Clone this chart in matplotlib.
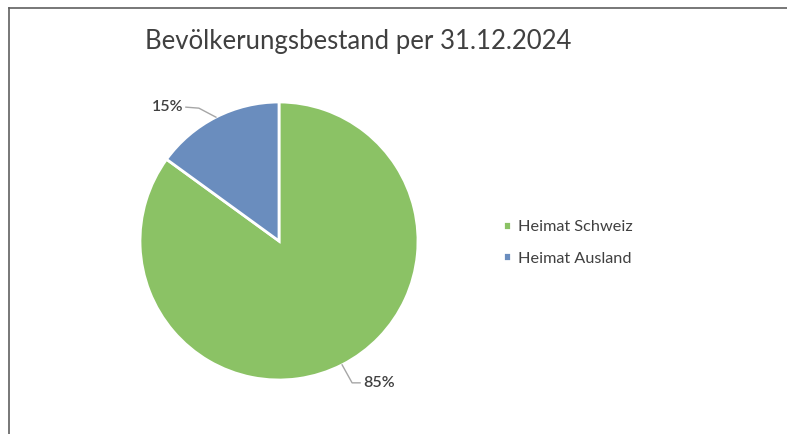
import numpy as np
import matplotlib.pyplot as plt

plt.rcParams['font.family'] = ['Lato', 'DejaVu Sans']

labels = ['Heimat Schweiz', 'Heimat Ausland']
shares = [85, 15]
colors = ['#8bc265', '#6a8dbe']
title = 'Bevölkerungsbestand per 31.12.2024'

W, H = 787, 434
fig = plt.figure(figsize=(W / 100, H / 100), dpi=100)

# pie center / radius in pixels
cx, cy, r = 279, 241, 139
half = 150
ax = fig.add_axes([(cx - half) / W, (H - cy - half) / H, 2 * half / W, 2 * half / H])
wedges, _ = ax.pie(shares, colors=colors, startangle=90, counterclock=False,
                   wedgeprops=dict(edgecolor='white', linewidth=2))
lim = half / r
ax.set_xlim(-lim, lim)
ax.set_ylim(-lim, lim)
ax.set_aspect('equal')
ax.axis('off')

# leader line shape (pixel offsets from wedge edge): elbow, end, text side
leaders = {0: ((10, -18), (18, -18), 'left'),
           1: ((-17, 9), (-30, 10), 'right')}
for i, w in enumerate(wedges):
    ang = np.deg2rad((w.theta1 + w.theta2) / 2)
    x, y = np.cos(ang), np.sin(ang)
    (ex, ey), (tx, ty), ha = leaders[i]
    xs = [x, x + ex / r, x + tx / r]
    ys = [y, y + ey / r, y + ty / r]
    ax.plot(xs, ys, color='#a6a6a6', lw=1, clip_on=False)
    pad = 3 / r if ha == 'left' else -3 / r
    ax.text(xs[-1] + pad, ys[-1], f'{shares[i]}%', ha=ha, va='center',
            fontsize=11.5, fontweight='semibold', color='#404040')

fig.text(145 / W, 1 - 42 / H, title, fontsize=18.5, color='#404040', va='center', ha='left')

leg = fig.legend(wedges, labels, loc='center left', bbox_to_anchor=(503 / W, 1 - 243 / H),
                 frameon=False, fontsize=11.7, handlelength=0.5, handleheight=0.5,
                 handletextpad=0.4, labelspacing=1.05, labelcolor='#404040',
                 borderpad=0, borderaxespad=0)

# frame lines (top and left)
fig.add_artist(plt.Line2D([9 / W, 1], [1 - 8 / H, 1 - 8 / H], color='#606060', lw=1.2))
fig.add_artist(plt.Line2D([9 / W, 9 / W], [0, 1 - 8 / H], color='#606060', lw=1.2))

fig.savefig('out.png', dpi=100)
